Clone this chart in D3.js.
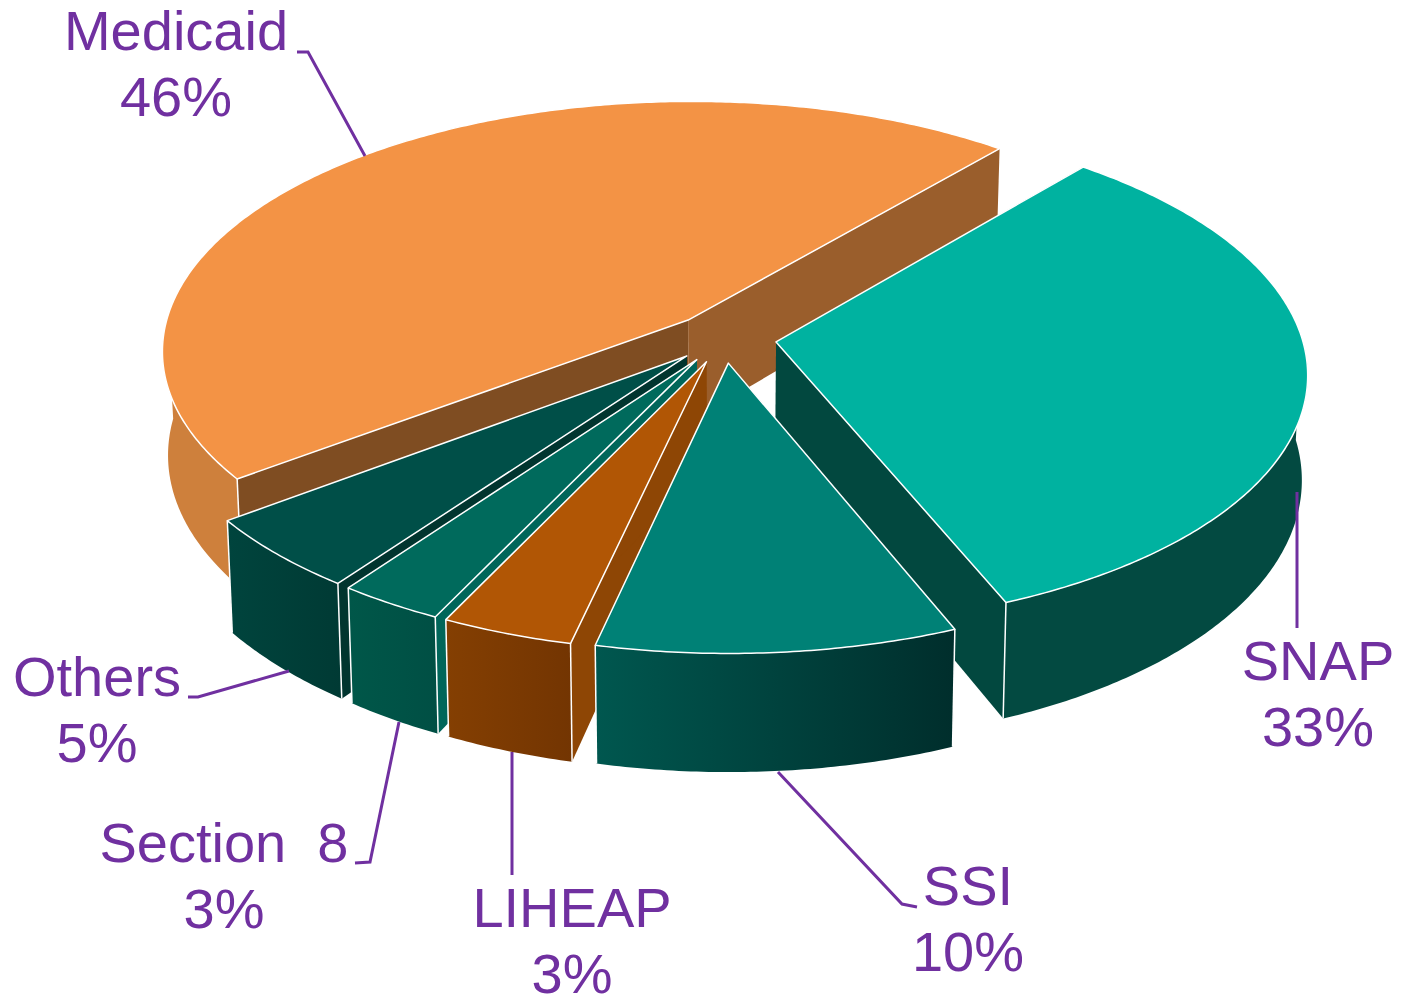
<!DOCTYPE html>
<html>
<head>
<meta charset="utf-8">
<script src="https://cdn.jsdelivr.net/npm/d3@7"></script>
<style>
  html, body { margin: 0; padding: 0; background: #fff; }
  svg { display: block; }
  text { font-family: "Liberation Sans", Arial, sans-serif; font-size: 56px; fill: #7030a0; text-anchor: middle; white-space: pre; }
</style>
</head>
<body>
<div id="chart"></div>
<script>
/* 3D exploded pie chart */

const categories = ["Medicaid", "SNAP", "SSI", "LIHEAP", "Section  8", "Others"];
const percentLabels = ["46%", "33%", "10%", "3%", "3%", "5%"];
// they are a bit off the printed labels
const shares = [46.46, 32.69, 9.70, 3.57, 2.85, 4.73];

const topColors = ["#f39345", "#00b2a0", "#008176", "#b15605", "#006a5c", "#004f48"];
const wallColors = ["#9a5e2c", "#02483f", "#02483f", "#8e4605", "#00665a", "#01352f"];
const sideLeft = ["#ce803c", "#034a41", "#00574f", "#843f02", "#005749", "#00443d"];
const sideRight = ["#ce803c", "#034a41", "#002e2c", "#733502", "#004f44", "#003a34"];

const drawOrder = [0, 1, 5, 4, 3, 2]; // back to front

const width = 1401, height = 996;

// the disc lies flat, v runs towards the viewer
const cx = 724, cy = 338,
    rx = 526, ry = 249,
    perspective = 0.12,
    thickness = 103,
    bottomShrink = 0.99,
    explode = 0.1,
    startDeg = 232.93;

const x = d3.scaleLinear().domain([-1, 1]).range([cx - rx, cx + rx]);
const y = d3.scaleLinear().domain([-1, 1]).range([cy - ry, cy + ry]);

const svg = d3.select("#chart")
    .append("svg")
    .attr("width", width)
    .attr("height", height)
    .attr("viewBox", [0, 0, width, height]);

// Project a point of the disc, z = 0 for the top surface and 1 for the bottom
function project(p, z) {
    let s = 1 / (1 - perspective * p[1]);
    let shrink = z ? bottomShrink : 1;
    return [x(p[0] * s * shrink), y(p[1] * s) + z * thickness * s];
}

const pie = d3.pie()
    .sort(null)
    .startAngle(startDeg * Math.PI / 180)
    .endAngle((startDeg + 360) * Math.PI / 180);

// pie() gives the angles clockwise from the top
const arcs = pie(shares);

const line = d3.line();

const defs = svg.append("defs");
categories.forEach((c, i) => {
    let g = defs.append("linearGradient").attr("id", "side" + i);
    g.append("stop").attr("offset", 0).attr("stop-color", sideLeft[i]);
    g.append("stop").attr("offset", 1).attr("stop-color", sideRight[i]);
});

const pieGroup = svg.append("g");

for (let i of drawOrder) {
    let a = arcs[i];
    let mid = (a.startAngle + a.endAngle) / 2;
    let apex = [explode * Math.sin(mid), -explode * Math.cos(mid)];
    let rim = t => [apex[0] + Math.sin(t), apex[1] - Math.cos(t)];

    let angles = d3.range(a.startAngle, a.endAngle, 0.01).concat(a.endAngle);
    let topPath = [project(apex, 0)].concat(angles.map(t => project(rim(t), 0)));

    // both cut faces, the hidden one ends up under the top surface
    for (let t of [a.startAngle, a.endAngle]) {
        let shade = wallColors[i];
        if (i == 0 && t == a.startAngle) shade = "#7f4d22";
        pieGroup.append("path")
            .attr("d", line([project(apex, 0), project(rim(t), 0), project(rim(t), 1), project(apex, 1)]) + "Z")
            .attr("fill", shade);
    }

    // outer side, front half only
    let front = angles.filter(t => Math.cos(t) < 0.02);
    if (front.length > 1) {
        let side = front.map(t => project(rim(t), 0))
            .concat(front.slice().reverse().map(t => project(rim(t), 1)));
        pieGroup.append("path")
            .attr("d", line(side) + "Z")
            .attr("fill", `url(#side${i})`);
    }

    // white vertical edges
    for (let t of [a.startAngle, a.endAngle]) {
        if (Math.cos(t) < 0) {
            pieGroup.append("path")
                .attr("d", line([project(rim(t), 0), project(rim(t), 1)]))
                .attr("stroke", "#fff")
                .attr("stroke-width", 1.5);
        }
    }
    if (a.endAngle - a.startAngle > Math.PI) {
        pieGroup.append("path")
            .attr("d", line([project(apex, 0), project(apex, 1)]))
            .attr("stroke", "#fff")
            .attr("stroke-width", 1.5);
    }

    pieGroup.append("path")
        .attr("d", line(topPath) + "Z")
        .attr("fill", topColors[i])
        .attr("stroke", "#fff")
        .attr("stroke-width", 1.5)
        .attr("stroke-linejoin", "round");
}

// Labels and their leader lines
const labelPos = [[176, 50], [1318, 680], [968, 905], [572, 927], [224, 862], [97, 696]];
const leaders = [
    [[297, 52], [308, 52], [365, 156]],
    [[1297, 492], [1297, 628]],
    [[778, 772], [902, 904], [917, 907]],
    [[512, 752], [512, 875]],
    [[399, 722], [370, 862], [355, 863]],
    [[289, 671], [198, 697], [188, 697]]
];

categories.forEach((c, i) => {
    svg.append("path")
        .attr("d", line(leaders[i]))
        .attr("fill", "none")
        .attr("stroke", "#7030a0")
        .attr("stroke-width", 3);

    svg.append("text")
        .attr("x", labelPos[i][0])
        .attr("y", labelPos[i][1])
        .text(c);

    svg.append("text")
        .attr("x", labelPos[i][0])
        .attr("y", labelPos[i][1] + 65.5)
        .text(percentLabels[i]);
});
</script>
</body>
</html>
